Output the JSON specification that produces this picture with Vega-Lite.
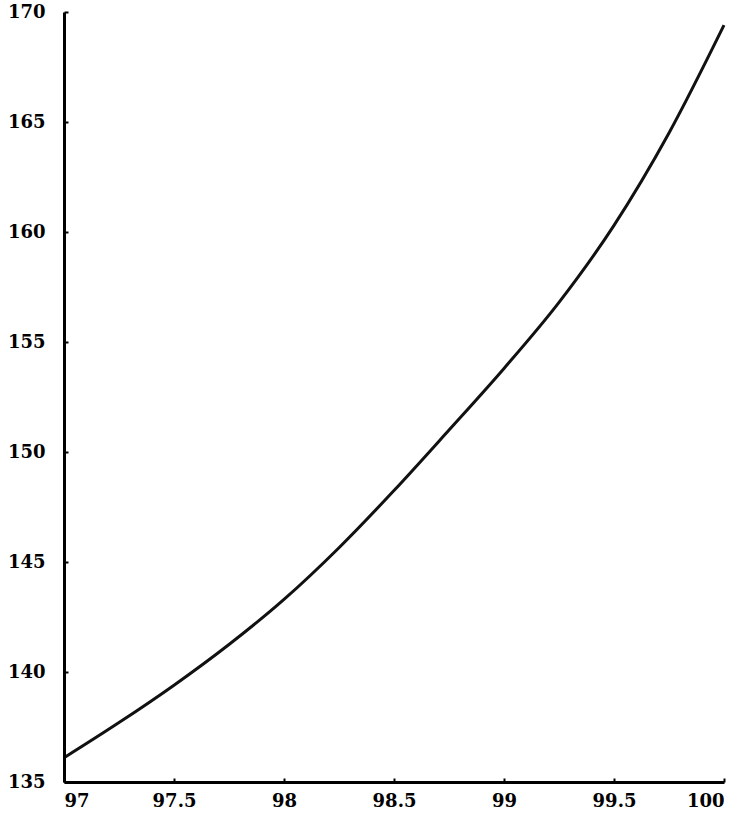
{
  "$schema": "https://vega.github.io/schema/vega-lite/v6.json",
  "width": 660,
  "height": 770,
  "autosize": "none",
  "padding": {"left": 64, "top": 12, "right": 13, "bottom": 40},
  "background": "white",
  "config": {"view": {"stroke": null}},
  "data": {
    "values": [
      {"x": 97.0, "y": 136.1},
      {"x": 97.25, "y": 137.7},
      {"x": 97.5, "y": 139.4},
      {"x": 97.75, "y": 141.25},
      {"x": 98.0, "y": 143.3},
      {"x": 98.25, "y": 145.65},
      {"x": 98.5, "y": 148.25},
      {"x": 98.75, "y": 151.0},
      {"x": 99.0, "y": 153.8},
      {"x": 99.25, "y": 156.8},
      {"x": 99.5, "y": 160.3},
      {"x": 99.75, "y": 164.5},
      {"x": 100.0, "y": 169.4}
    ]
  },
  "mark": {"type": "line", "interpolate": "monotone", "color": "#111111", "strokeWidth": 3},
  "encoding": {
    "x": {
      "field": "x",
      "type": "quantitative",
      "scale": {"domain": [97, 100], "nice": false, "zero": false},
      "axis": {
        "values": [97, 97.5, 98, 98.5, 99, 99.5, 100],
        "format": "~g",
        "title": null,
        "grid": false,
        "zindex": 1,
        "domainColor": "#000000",
        "domainWidth": 3,
        "tickColor": "#000000",
        "tickSize": -4,
        "tickWidth": 2,
        "labelFont": "DejaVu Serif",
        "labelFontWeight": "bold",
        "labelFontSize": 18,
        "labelColor": "#000000",
        "labelPadding": 14,
        "labelFlush": true
      }
    },
    "y": {
      "field": "y",
      "type": "quantitative",
      "scale": {"domain": [135, 170], "nice": false, "zero": false},
      "axis": {
        "values": [135, 140, 145, 150, 155, 160, 165, 170],
        "title": null,
        "grid": false,
        "zindex": 1,
        "domainColor": "#000000",
        "domainWidth": 3,
        "tickColor": "#000000",
        "tickSize": -4,
        "tickWidth": 2,
        "labelFont": "DejaVu Serif",
        "labelFontWeight": "bold",
        "labelFontSize": 18,
        "labelColor": "#000000",
        "labelPadding": 23,
        "labelFlush": false,
        "labelBaseline": "middle"
      }
    }
  }
}
